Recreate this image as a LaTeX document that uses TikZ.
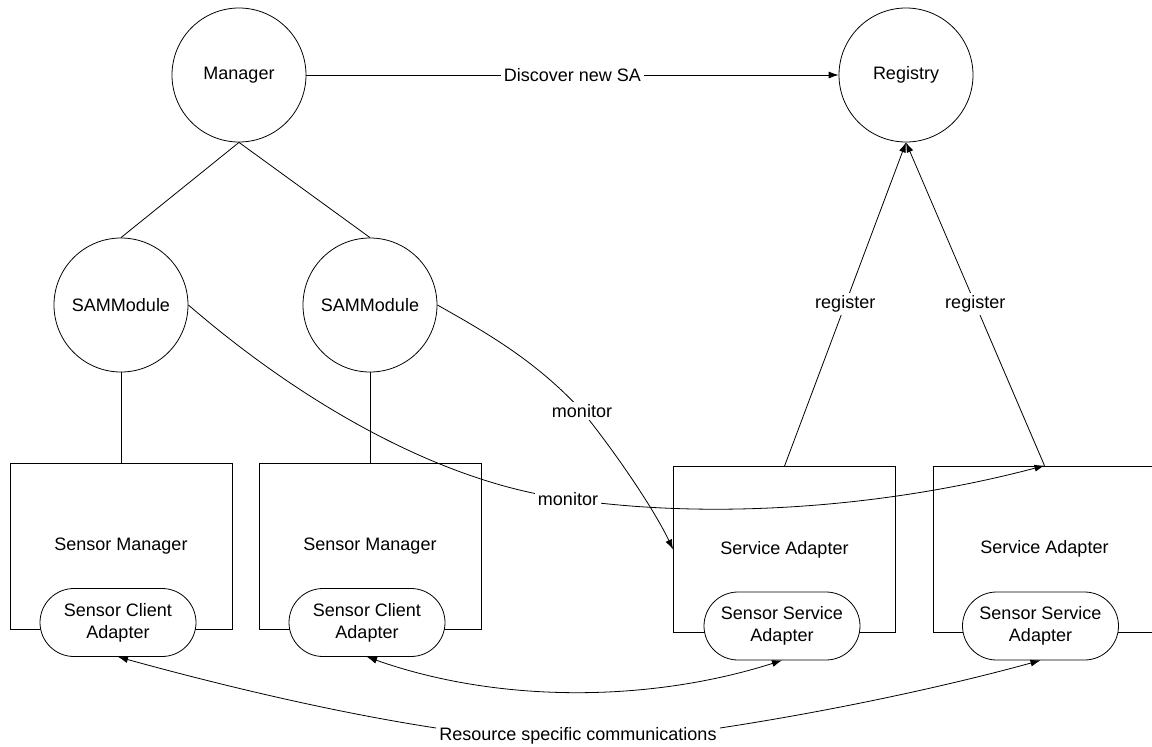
\documentclass[tikz,border=0pt]{standalone}
\usepackage{fontspec}
\setmainfont{Liberation Sans}
\usetikzlibrary{shapes.misc,arrows.meta}
\begin{document}
\begin{tikzpicture}[x=1pt,y=-1pt,line width=0.8pt,
  every node/.style={font=\fontsize{18}{21.7}\selectfont},
  proc/.style={circle,draw,minimum size=134pt,inner sep=0pt},
  comp/.style={rectangle,draw,minimum width=222pt,minimum height=166pt,inner sep=0pt},
  adapter/.style={rounded rectangle,draw,fill=white,minimum width=156pt,minimum height=68pt,inner sep=0pt,align=center},
  lbl/.style={fill=white,inner sep=2.5pt},
  arr/.style={-{Latex[length=10pt,width=7pt]}},
  darr/.style={{Latex[length=10pt,width=7pt]}-{Latex[length=10pt,width=7pt]}}]
\useasboundingbox (0,0) rectangle (1152,747);
\fill[white] (0,0) rectangle (1152,747);

% processes
\node[proc] (mgr)  at (239,75)  {Manager};
\node[proc] (reg)  at (906,75)  {Registry};
\node[proc] (samA) at (121,305) {SAMModule};
\node[proc] (samB) at (370,305) {SAMModule};

% components
\node[comp] (smA) at (121,546)    {Sensor Manager};
\node[comp] (smB) at (370,546)    {Sensor Manager};
\node[comp] (saA) at (784.5,549.5) {Service Adapter};
\node[comp] (saB) at (1044.5,549) {Service Adapter};

% adapters sitting on the component borders
\node[adapter] (scA) at (118,622.5) {Sensor Client\\Adapter};
\node[adapter] (scB) at (367,622.5) {Sensor Client\\Adapter};
\node[adapter] (ssA) at (782,626)   {Sensor Service\\Adapter};
\node[adapter] (ssB) at (1040.5,626) {Sensor Service\\Adapter};

% hierarchy
\draw (mgr.south) -- (samA.north);
\draw (mgr.south) -- (samB.north);
\draw (samA) -- (smA);
\draw (samB) -- (smB);

% discovery and registration
\draw[arr] (mgr) -- node[lbl] (disc) {Discover new SA} (reg);
\draw[arr] (saA.north) -- node[lbl] (regA) {register} (reg.south);
\draw[arr] (saB.north) -- node[lbl] (regB) {register} (reg.south);

% monitoring
\coordinate (m1) at (568,499);
\coordinate (m2) at (582,411);
\draw[arr] (samA.east) .. controls (310,410) and (448,484) .. (m1)
  .. controls (718,521) and (892,506) .. (saB.north);
\node[lbl] (monA) at (m1) {monitor};
\draw[arr] (samB.east) .. controls (489,334) and (537,362) .. (m2)
  .. controls (612,448) and (653,507) .. (saA.west);
\node[lbl] (monB) at (m2) {monitor};

% resource communications
\node[inner sep=3pt] (res) at (578,736) {Resource specific communications};
\draw[arr] ([yshift=8pt]res.west) .. controls (332,712) and (220,685) .. (scA.south);
\draw[arr] ([yshift=8pt]res.east) .. controls (825,712) and (940,688) .. (ssB.south);
\draw[darr] (scB.south) .. controls (497,703) and (648,703) .. (ssA.south);
\end{tikzpicture}
\end{document}
